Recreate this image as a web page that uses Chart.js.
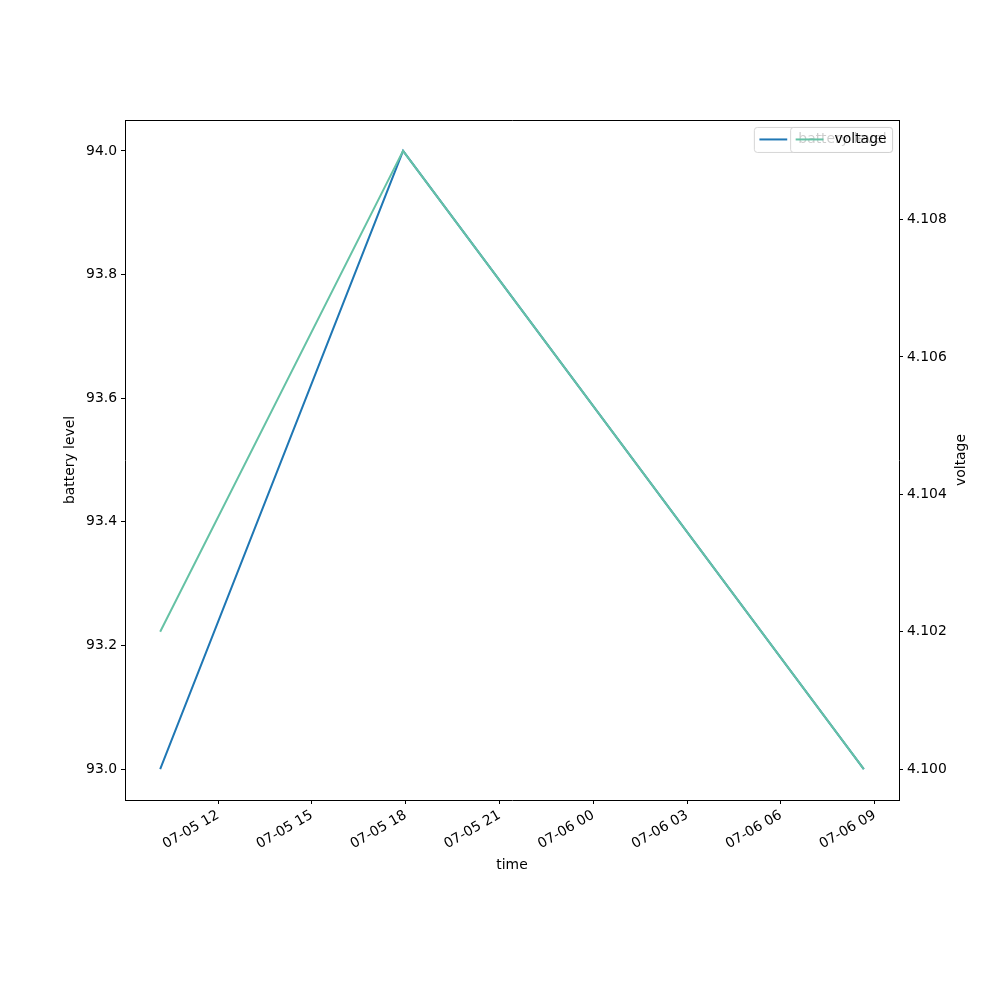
<!DOCTYPE html>
<html>
<head>
<meta charset="utf-8">
<script src="https://cdn.jsdelivr.net/npm/chart.js@4.4.1/dist/chart.umd.min.js"></script>
<style>
  html, body { margin: 0; padding: 0; background: #fff; }
  #wrap { width: 1000px; height: 1000px; }
</style>
</head>
<body>
<div id="wrap"><canvas id="c" width="1000" height="1000"></canvas></div>
<script>
// values
const timestamps   = ["07-05 10:09", "07-05 17:55", "07-06 08:39"];
const batteryLevel = [93.0, 94.0, 93.0];
const voltage      = [4.102, 4.109, 4.100];

const xTickLabels  = ["07-05 12", "07-05 15", "07-05 18", "07-05 21", "07-06 00", "07-06 03", "07-06 06", "07-06 09"];
const batteryTicks = [93.0, 93.2, 93.4, 93.6, 93.8, 94.0];
const voltageTicks = [4.100, 4.102, 4.104, 4.106, 4.108];

const seriesLabels = ["battery level", "voltage"];
const xTitle = "time";
const yTitle = "battery level";
const y1Title = "voltage";

const FS = 13.9;
const FONT = "DejaVu Sans";

// "MM-DD HH[:MM]" -> hours since 07-05 00:00
function toHours(s) {
  const [md, hm] = s.split(" ");
  const day = +md.split("-")[1];
  const [h, m] = hm.split(":");
  return (day - 5) * 24 + (+h) + (m ? +m / 60 : 0);
}

// matplotlib style 5% margins
function padRange(vals) {
  const lo = Math.min(...vals), hi = Math.max(...vals), d = (hi - lo) * 0.05;
  return [lo - d, hi + d];
}

const xs = timestamps.map(toHours);
const [xMin, xMax]   = padRange(xs);
const [yMin, yMax]   = padRange(batteryLevel);
const [y1Min, y1Max] = padRange(voltage);
const xTickVals = xTickLabels.map(toHours);

const colors = ["#1f77b4", "#66c2a5"];

const frameAndLegends = {
  id: "frameAndLegends",
  afterDraw(chart) {
    const ctx = chart.ctx, a = chart.chartArea;
    ctx.save();
    // top frame line (other three sides come from the axes)
    ctx.strokeStyle = "#000";
    ctx.lineWidth = 1;
    const ty = Math.round(a.top) + 0.5;
    ctx.beginPath();
    ctx.moveTo(a.left, ty);
    ctx.lineTo(a.right + 0.5, ty);
    ctx.stroke();

    // right axis title, reading bottom to top
    ctx.font = `${FS}px "${FONT}"`;
    ctx.fillStyle = "#000";
    ctx.textAlign = "center";
    ctx.textBaseline = "middle";
    ctx.translate(961, (a.top + a.bottom) / 2);
    ctx.rotate(-Math.PI / 2);
    ctx.fillText(y1Title, 0, 0);
    ctx.restore();

    // two legends stacked in the same corner (second one covers the first)
    ctx.save();
    ctx.font = `${FS}px "${FONT}"`;
    const pad = 0.4 * FS, hl = 2 * FS, gap = 0.8 * FS, h = 25;
    const right = a.right - 0.5 * FS, top = a.top + 0.5 * FS;
    chart.data.datasets.forEach((ds, i) => {
      const tw = ctx.measureText(ds.label).width;
      const w = pad + hl + gap + tw + pad;
      const x0 = right - w;
      ctx.beginPath();
      ctx.roundRect(x0 + 0.5, top + 0.5, w, h, 3);
      ctx.fillStyle = "rgba(255,255,255,0.8)";
      ctx.fill();
      ctx.strokeStyle = "rgba(204,204,204,0.8)";
      ctx.lineWidth = 1;
      ctx.stroke();
      const cy = top + h / 2;
      ctx.beginPath();
      ctx.moveTo(x0 + pad, cy);
      ctx.lineTo(x0 + pad + hl, cy);
      ctx.strokeStyle = ds.borderColor;
      ctx.lineWidth = 2;
      ctx.stroke();
      ctx.fillStyle = "#000";
      ctx.textAlign = "left";
      ctx.textBaseline = "middle";
      ctx.fillText(ds.label, x0 + pad + hl + gap, cy);
    });
    ctx.restore();
  }
};

const axisCommon = {
  grid: { drawOnChartArea: false, drawTicks: true, tickLength: 4, color: "#000", tickWidth: 1 },
  border: { display: true, color: "#000", width: 1 },
};

new Chart(document.getElementById("c"), {
  type: "line",
  data: {
    datasets: [
      {
        label: seriesLabels[0],
        data: xs.map((x, i) => ({ x, y: batteryLevel[i] })),
        borderColor: colors[0], backgroundColor: colors[0],
        borderWidth: 2, pointRadius: 0, tension: 0, yAxisID: "y", order: 1
      },
      {
        label: seriesLabels[1],
        data: xs.map((x, i) => ({ x, y: voltage[i] })),
        borderColor: colors[1], backgroundColor: colors[1],
        borderWidth: 2, pointRadius: 0, tension: 0, yAxisID: "y1", order: 0
      }
    ]
  },
  options: {
    responsive: false,
    animation: false,
    layout: { padding: { left: 58, right: 0, top: 120, bottom: 122 } },
    plugins: { legend: { display: false }, tooltip: { enabled: false } },
    scales: {
      x: {
        type: "linear", position: "bottom", min: xMin, max: xMax,
        ...axisCommon,
        afterBuildTicks: s => { s.ticks = xTickVals.map(v => ({ value: v })); },
        afterFit: s => { s.height = 78; },
        ticks: {
          color: "#000", font: { family: FONT, size: FS }, padding: 3,
          minRotation: 30, maxRotation: 30, autoSkip: false,
          callback: (v, i) => xTickLabels[i]
        },
        title: { display: true, text: xTitle, color: "#000", font: { family: FONT, size: FS }, padding: { top: 4, bottom: 4 } }
      },
      y: {
        type: "linear", position: "left", min: yMin, max: yMax,
        ...axisCommon,
        afterBuildTicks: s => { s.ticks = batteryTicks.map(v => ({ value: v })); },
        afterFit: s => { s.width = 67; },
        ticks: { color: "#000", font: { family: FONT, size: FS }, padding: 4, callback: v => v.toFixed(1) },
        title: { display: true, text: yTitle, color: "#000", font: { family: FONT, size: FS }, padding: { top: 4, bottom: 4 } }
      },
      y1: {
        type: "linear", position: "right", min: y1Min, max: y1Max,
        ...axisCommon,
        afterBuildTicks: s => { s.ticks = voltageTicks.map(v => ({ value: v })); },
        afterFit: s => { s.width = 101; },
        ticks: { color: "#000", font: { family: FONT, size: FS }, padding: 4, callback: v => v.toFixed(3) }
      }
    }
  },
  plugins: [frameAndLegends]
});
</script>
</body>
</html>
